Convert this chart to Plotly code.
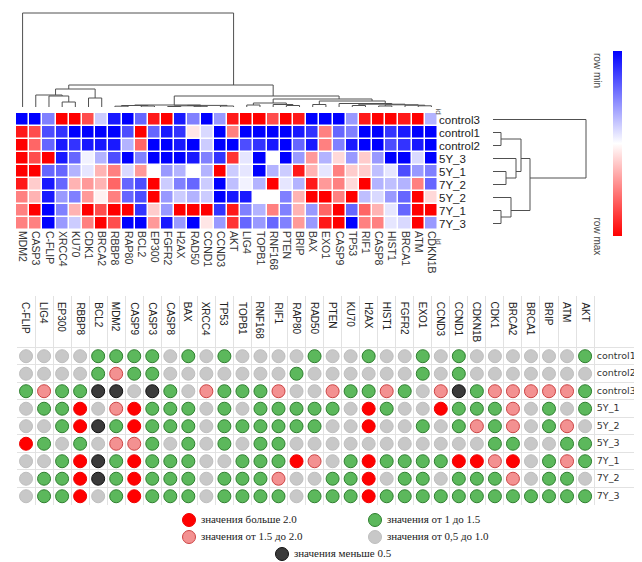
import plotly.graph_objects as go

# heatmap (rows / columns in clustered order), values scaled per row: -1 = row min, 1 = row max
heat_rows = ["control3", "control1", "control2", "5Y_3", "5Y_1", "7Y_2", "5Y_2", "7Y_1", "7Y_3"]
heat_cols = ["MDM2", "CASP3", "C-FLIP", "XRCC4", "KU70", "CDK1", "BRCA2", "RBBP8", "RAP80", "BCL2",
             "EP300", "FGFR2", "H2AX", "RAD50", "CCND1", "CCND3", "AKT", "LIG4", "TOPB1", "RNF168",
             "PTEN", "BRIP", "BAX", "EXO1", "CASP9", "TP53", "RIF1", "CASP8", "HIST1", "BRCA1",
             "ATM", "CDKN1B"]
heat_values = [
    [-1, -1, -0.5, 1, 1, 0.7, -0.2, -0.9, -1, -0.6, 0.9, 1, -0.9, -0.5, -1, -0.4, 0.9, 1, 1, 0.7,
     1, 0.9, -1, -1, -1, -0.4, 0.9, 1, 1, 0.9, 1, -0.3],
    [0.9, 0.7, -0.7, -0.8, -1, -1, -1, -1, -0.7, 1, -0.6, -0.9, -0.8, 0.1, -0.15, -1, 0.5, -1, -1, -1,
     -1, -0.9, -0.8, 0.5, -0.6, -0.5, -1, -1, -0.8, -0.9, -1, -1],
    [1, 0.6, -0.6, -0.9, -0.8, -0.9, -0.9, -0.9, -0.3, 0.6, -1, -1, -0.9, -1, -0.2, -1, -1, -0.7, -0.8, -0.9,
     -1, -0.6, -0.9, 0.5, -0.5, -0.9, -1, -1, -0.7, -0.8, -0.9, -1],
    [1, 0.7, 1, -0.9, -0.6, -0.05, -0.3, -0.7, -1, -0.5, -1, -1, -1, -0.9, -0.5, -0.8, 0.8, -0.1, -1, 0,
     -1, -0.4, 0.4, -0.3, 0.15, -0.4, 0.2, -0.4, -1, -1, -0.15, -1],
    [1, 1, -0.6, -0.6, -0.3, -0.1, 0.3, 0.5, -0.15, 0.4, 0, -0.4, -0.3, 0, -0.3, 1, -0.2, -0.1, -1, -0.3,
     -0.2, 0.9, 0.3, -0.1, 0.5, 0.2, 0.2, -0.25, -0.1, -0.7, -0.4, -0.5],
    [0.9, 0.2, -0.9, -0.6, 0.3, 0.4, 0.3, 0.6, -0.6, -0.7, 1, -0.2, -0.5, -0.6, -0.2, -1, -0.25, -0.05, -0.3, 1,
     -0.1, -0.3, 0.9, 0.4, 0.5, 0.15, 1, -0.3, -0.25, -0.3, 0.5, -0.6],
    [0.5, 0.3, -0.9, -0.4, -0.5, 0.4, 0.05, 0.5, -0.6, -0.7, 1, -0.4, -0.2, -0.3, -0.2, -1, -0.9, -0.9, 0, 0,
     -0.5, 0.3, 1, 1, 0.5, 1, -0.25, -0.15, -0.4, -0.6, 1, 0.15],
    [0.5, 1, -1, -0.5, 0.3, 1, 0.7, 1, 1, -0.8, 0.2, -0.4, 1, 1, 1, -0.8, 0.9, -0.5, -0.3, 0.5,
     -0.5, 0.3, -0.4, 0.6, 1, -0.6, 0.6, 0.3, -0.1, -0.6, 1, 1],
    [0.5, 0.5, -1, -0.4, -0.2, 0.5, 1, 0.7, -1, -1, 0.4, -0.9, -0.4, -1, 0.1, -0.4, 0.8, -0.6, -0.4, -0.6,
     -0.5, 0.4, -0.4, 0.9, 1, -1, 0.5, 0.5, -0.1, -0.15, 1, -0.4],
]

# dendrogram merges: (node, left, right, height)
col_merges = [
    ("c1", "XRCC4", "KU70", 5), ("c2", "C-FLIP", "c1", 11), ("c3", "CASP3", "c2", 12),
    ("c4", "CDK1", "BRCA2", 9), ("c5", "c3", "c4", 18),
    ("c6", "RBBP8", "RAP80", 0.8), ("c7", "BCL2", "EP300", 1.0), ("c8", "c6", "c7", 1.5),
    ("c9", "FGFR2", "H2AX", 0.5), ("c10", "RAD50", "CCND1", 0.7), ("c11", "c9", "c10", 1.2),
    ("c12", "CCND3", "AKT", 1.0), ("c13", "c11", "c12", 1.6), ("c14", "c8", "c13", 2.0),
    ("c15", "LIG4", "TOPB1", 2.0), ("c16", "PTEN", "BRIP", 1.5), ("c17", "RNF168", "c16", 2.5),
    ("c18", "c15", "c17", 4.0), ("c19", "BAX", "EXO1", 2.5),
    ("c20", "ATM", "CDKN1B", 1.2), ("c21", "BRCA1", "c20", 1.8), ("c22", "CASP8", "HIST1", 1.0),
    ("c23", "c22", "c21", 2.2), ("c24", "TP53", "RIF1", 1.5), ("c25", "c24", "c23", 2.8),
    ("c26", "CASP9", "c25", 3.5), ("c27", "c19", "c26", 6), ("c28", "c18", "c27", 8),
    ("c29", "c14", "c28", 11), ("c30", "c5", "c29", 22), ("c31", "MDM2", "c30", 94),
]
row_merges = [
    ("r1", "control1", "control2", 8), ("r2", "5Y_1", "7Y_2", 13), ("r3", "5Y_3", "r2", 23),
    ("r4", "r1", "r3", 28), ("r5", "7Y_1", "7Y_3", 8), ("r6", "5Y_2", "r5", 18),
    ("r7", "r4", "r6", 37), ("r8", "control3", "r7", 93),
]

# dot table
table_cols = ["C-FLIP", "LIG4", "EP300", "RBBP8", "BCL2", "MDM2", "CASP9", "CASP3", "CASP8", "BAX",
              "XRCC4", "TP53", "TOPB1", "RNF168", "RIF1", "RAP80", "RAD50", "PTEN", "KU70", "H2AX",
              "HIST1", "FGFR2", "EXO1", "CCND3", "CCND1", "CDKN1B", "CDK1", "BRCA2", "BRCA1", "BRIP",
              "ATM", "AKT"]
table_rows = ["control1", "control2", "control3", "5Y_1", "5Y_2", "5Y_3", "7Y_1", "7Y_2", "7Y_3"]
# 0: <0.5, 1: 0.5-1.0, 2: 1-1.5, 3: 1.5-2.0, 4: >2.0
table_levels = [
    [1, 1, 1, 1, 2, 2, 2, 2, 1, 2, 1, 2, 1, 1, 1, 1, 2, 1, 1, 2, 1, 1, 2, 1, 2, 1, 1, 1, 1, 1, 1, 2],
    [1, 1, 1, 1, 2, 3, 2, 2, 1, 1, 1, 1, 1, 1, 1, 2, 1, 1, 1, 1, 1, 1, 2, 1, 2, 1, 1, 1, 1, 1, 1, 1],
    [2, 3, 2, 2, 0, 0, 1, 0, 2, 1, 3, 2, 2, 2, 3, 1, 1, 3, 2, 2, 3, 2, 1, 3, 0, 2, 3, 3, 3, 3, 3, 2],
    [1, 2, 2, 4, 1, 3, 4, 2, 2, 2, 1, 2, 1, 2, 2, 2, 2, 2, 1, 4, 2, 1, 1, 4, 2, 2, 2, 3, 1, 2, 1, 2],
    [1, 1, 2, 4, 0, 2, 4, 2, 2, 2, 1, 2, 2, 2, 2, 2, 2, 1, 1, 4, 1, 1, 2, 1, 2, 3, 2, 3, 1, 2, 3, 1],
    [4, 2, 1, 2, 1, 3, 3, 2, 1, 2, 1, 2, 1, 2, 2, 1, 1, 1, 1, 1, 1, 1, 1, 1, 1, 1, 2, 2, 1, 1, 2, 2],
    [1, 1, 2, 4, 0, 2, 4, 2, 2, 2, 1, 1, 2, 2, 2, 4, 3, 1, 2, 4, 2, 2, 2, 2, 4, 4, 3, 4, 1, 2, 3, 2],
    [1, 2, 2, 4, 0, 2, 4, 2, 2, 2, 1, 2, 2, 2, 3, 1, 1, 2, 2, 4, 1, 2, 2, 1, 2, 2, 2, 3, 1, 2, 2, 1],
    [1, 2, 2, 4, 1, 2, 4, 2, 2, 2, 1, 2, 2, 2, 2, 1, 2, 2, 2, 4, 2, 2, 2, 2, 2, 2, 2, 2, 2, 2, 2, 2],
]
level_names = ["значения меньше 0.5", "значения от 0,5 до 1.0", "значения от 1 до 1.5",
               "значения от 1.5 до 2.0", "значения больше 2.0"]
level_fill = ["#3a3a3a", "#c8c8c8", "#5cb85c", "#f39191", "#ff0000"]
level_edge = ["#111111", "#bebebe", "#2f7f2f", "#cc4444", "#ee0000"]
legend_slot = {4: (0, 0), 2: (1, 0), 3: (0, 1), 1: (1, 1), 0: (0.5, 2)}

W, H = 642, 562


def px(v):
    return v / W


def py(v):
    return 1 - v / H


def dendro_lines(merges, leaves):
    pos = {n: float(i) for i, n in enumerate(leaves)}
    size = {n: 1 for n in leaves}
    height = {n: 0.0 for n in leaves}
    p, h = [], []
    for node, a, b, d in merges:
        size[node] = size[a] + size[b]
        pos[node] = (pos[a] * size[a] + pos[b] * size[b]) / size[node]
        height[node] = d
        p += [pos[a], pos[a], pos[b], pos[b], None]
        h += [height[a], d, d, height[b], None]
    return p, h


fig = go.Figure()

fig.add_trace(go.Heatmap(
    z=heat_values, x=list(range(len(heat_cols))), y=list(range(len(heat_rows))),
    colorscale=[[0, "#0000ff"], [0.5, "#ffffff"], [1, "#ff0000"]], zmin=-1, zmax=1,
    xgap=1.5, ygap=1.5, showscale=False, hoverinfo="skip", xaxis="x", yaxis="y"))

# colour bar: row min (blue) at top
fig.add_trace(go.Scatter(
    x=[None], y=[None], mode="markers", showlegend=False, hoverinfo="skip", xaxis="x", yaxis="y",
    marker=dict(color=[0], cmin=-1, cmax=1, showscale=True,
                colorscale=[[0, "#ff0000"], [0.5, "#ffffff"], [1, "#0000ff"]],
                colorbar=dict(x=px(605), xanchor="left", y=py(43), yanchor="top",
                              len=(228 - 43) / H, lenmode="fraction", thickness=9,
                              xpad=0, ypad=0, outlinewidth=0, showticklabels=False, ticks=""))))

cx, cy = dendro_lines(col_merges, heat_cols)
fig.add_trace(go.Scatter(x=cx, y=cy, mode="lines", line=dict(color="#505050", width=1),
                         showlegend=False, hoverinfo="skip", xaxis="x2", yaxis="y2"))
ry, rx = dendro_lines(row_merges, heat_rows)
fig.add_trace(go.Scatter(x=rx, y=ry, mode="lines", line=dict(color="#505050", width=1),
                         showlegend=False, hoverinfo="skip", xaxis="x3", yaxis="y3"))

for lev in range(5):
    xs, ys = [], []
    for r, row in enumerate(table_levels):
        for c, v in enumerate(row):
            if v == lev:
                xs.append(c)
                ys.append(r)
    mk = dict(size=13, color=level_fill[lev], line=dict(color=level_edge[lev], width=1))
    fig.add_trace(go.Scatter(x=xs, y=ys, mode="markers", marker=mk, showlegend=False,
                             hoverinfo="skip", xaxis="x4", yaxis="y4"))
    sx, sy = legend_slot[lev]
    fig.add_trace(go.Scatter(x=[sx], y=[sy], mode="markers+text", marker=mk, text=[" " + level_names[lev]],
                             textposition="middle right", cliponaxis=False,
                             textfont=dict(family="Liberation Serif", size=11, color="#222"),
                             showlegend=False, hoverinfo="skip", xaxis="x5", yaxis="y5"))

fig.add_trace(go.Scatter(x=[31.65] * len(table_rows), y=list(range(len(table_rows))), mode="text",
                         text=table_rows, textposition="middle right", cliponaxis=False,
                         textfont=dict(family="DejaVu Sans", size=9.5, color="#333"),
                         showlegend=False, hoverinfo="skip", xaxis="x4", yaxis="y4"))

annotations = []
for i, name in enumerate(table_cols):
    annotations.append(dict(x=i, y=py(292), xref="x4", yref="paper", text=name, textangle=90,
                            showarrow=False, xanchor="center", yanchor="top",
                            font=dict(family="Liberation Sans", size=10, color="#222")))
for txt, yy in [("row min", 43), ("row max", 228)]:
    annotations.append(dict(x=px(597), y=py(yy), xref="paper", yref="paper", text=txt, textangle=90,
                            showarrow=False, font=dict(family="Liberation Sans", size=10, color="#444")))
for yy in [98, 233]:
    annotations.append(dict(x=px(437), y=py(yy), xref="paper", yref="paper", text="id", textangle=90,
                            showarrow=False, font=dict(family="Liberation Sans", size=8, color="#555")))

hidden = dict(visible=False, fixedrange=True)
fig.update_layout(
    width=W, height=H, margin=dict(l=0, r=0, t=0, b=0), autosize=False,
    paper_bgcolor="white", plot_bgcolor="white", showlegend=False,
    annotations=annotations,
    xaxis=dict(domain=[px(8), px(430)], range=[-0.5, 31.5], tickvals=list(range(len(heat_cols))),
               ticktext=heat_cols, tickangle=90, ticks="", showgrid=False, zeroline=False,
               tickfont=dict(family="Liberation Sans", size=10.5, color="#333"), anchor="y"),
    yaxis=dict(domain=[py(222), py(105)], range=[8.5, -0.5], tickvals=list(range(len(heat_rows))),
               ticktext=heat_rows, side="right", ticks="", showgrid=False, zeroline=False,
               tickfont=dict(family="Liberation Sans", size=11.5, color="#222"), anchor="x"),
    xaxis2=dict(domain=[px(8), px(430)], range=[-0.5, 31.5], anchor="y2", **hidden),
    yaxis2=dict(domain=[py(99), py(3)], range=[0, 96], anchor="x2", **hidden),
    xaxis3=dict(domain=[px(485), px(600)], range=[0, 115], anchor="y3", **hidden),
    yaxis3=dict(domain=[py(222), py(105)], range=[8.5, -0.5], anchor="x3", **hidden),
    xaxis4=dict(domain=[px(9), 1], range=[-0.5, 34.6], tickvals=[i - 0.5 for i in range(33)],
                showgrid=True, gridcolor="#e2e2e2", gridwidth=1, showticklabels=False, ticks="",
                zeroline=False, showline=False, anchor="y4", fixedrange=True),
    yaxis4=dict(domain=[py(497), py(288)], range=[8.5, -3.44], tickvals=[i - 0.5 for i in range(10)],
                showgrid=True, gridcolor="#e2e2e2", gridwidth=1, showticklabels=False, ticks="",
                zeroline=False, showline=False, anchor="x4", fixedrange=True),
    xaxis5=dict(domain=[px(181), px(367)], range=[0, 1], anchor="y5", **hidden),
    yaxis5=dict(domain=[py(546), py(512)], range=[2, 0], anchor="x5", **hidden),
)

fig.write_html("out.html")
